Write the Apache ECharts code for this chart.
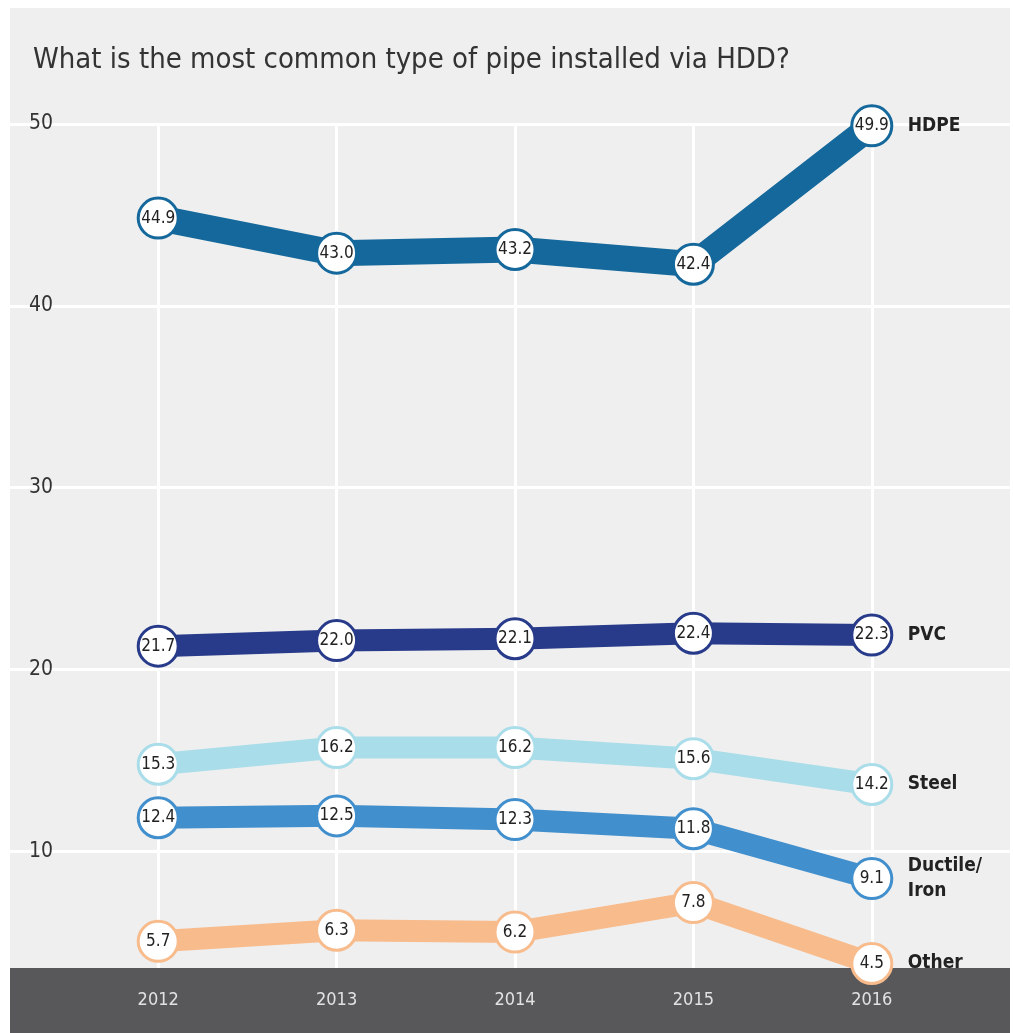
<!DOCTYPE html>
<html>
<head>
<meta charset="utf-8">
<script src="https://cdn.jsdelivr.net/npm/echarts@6/dist/echarts.min.js"></script>
<style>
  html, body { margin: 0; padding: 0; background: #ffffff; }
  #chart { width: 1013px; height: 1033px; }
</style>
</head>
<body>
<div id="chart"></div>
<script>
// Survey years and share of responses (%) per pipe material
const years = ['2012', '2013', '2014', '2015', '2016'];
const hdpe    = [44.9, 43.0, 43.2, 42.4, 49.9];
const pvc     = [21.7, 22.0, 22.1, 22.4, 22.3];
const steel   = [15.3, 16.2, 16.2, 15.6, 14.2];
const ductile = [12.4, 12.5, 12.3, 11.8, 9.1];
const other   = [5.7, 6.3, 6.2, 7.8, 4.5];
const yTicks  = [10, 20, 30, 40, 50];

const FONT = '"Liberation Sans Narrow", "DejaVu Sans Condensed", sans-serif';

// vertical scale: 40 units span 738 px
const PLOT_TOP = 124, PLOT_BOTTOM = 968, PX_PER_UNIT = 738 / 40;
const yMaxVal = 50;
const yMinVal = yMaxVal - (PLOT_BOTTOM - PLOT_TOP) / PX_PER_UNIT;

function makeSeries(name, data, color, width, labelText) {
  return {
    name: name,
    type: 'line',
    xAxisIndex: 0,
    yAxisIndex: 0,
    data: data,
    clip: false,
    z: 5,
    symbol: 'circle',
    symbolSize: 40,
    lineStyle: { color: color, width: width, cap: 'butt', join: 'miter' },
    itemStyle: { color: '#ffffff', borderColor: color, borderWidth: 3 },
    label: {
      show: true,
      position: 'inside',
      formatter: p => Number(p.value).toFixed(1),
      fontFamily: FONT,
      fontSize: 17,
      color: '#222222'
    },
    endLabel: {
      show: true,
      distance: 36,
      formatter: labelText,
      fontFamily: FONT,
      fontWeight: 'bold',
      fontSize: 19,
      lineHeight: 25,
      color: '#222222'
    },
    emphasis: { disabled: true },
    animation: false
  };
}

const chart = echarts.init(document.getElementById('chart'), null, { renderer: 'canvas' });

chart.setOption({
  animation: false,
  backgroundColor: '#ffffff',
  title: {
    text: 'What is the most common type of pipe installed via HDD?',
    left: 28,
    top: 41,
    textStyle: { fontFamily: FONT, fontWeight: 'normal', fontSize: 29, color: '#333333' }
  },
  graphic: [
    { type: 'rect', z: -10, silent: true, shape: { x: 10, y: 8, width: 1000, height: 960 }, style: { fill: '#efefef' } },
    { type: 'rect', z: 1, silent: true, shape: { x: 10, y: 968, width: 1000, height: 65 }, style: { fill: '#58585a' } }
  ],
  grid: [
    // series grid: category centres fall on the vertical rules
    { left: 69, right: 52, top: PLOT_TOP, height: PLOT_BOTTOM - PLOT_TOP },
    // full-width grid carrying the horizontal rules and value labels
    { left: 10, right: 3, top: PLOT_TOP, height: yMaxVal * PX_PER_UNIT }
  ],
  xAxis: [
    {
      gridIndex: 0,
      type: 'category',
      data: years,
      boundaryGap: true,
      z: 3,
      axisLine: { show: false },
      axisTick: { show: false },
      axisLabel: { margin: 23, fontFamily: FONT, fontSize: 18, color: '#e2e2e2' },
      splitLine: { show: false }
    },
    {
      gridIndex: 1,
      type: 'category',
      data: years,
      show: false
    }
  ],
  yAxis: [
    {
      gridIndex: 0,
      type: 'value',
      min: yMinVal,
      max: yMaxVal,
      show: false,
      splitLine: { show: false }
    },
    {
      gridIndex: 1,
      type: 'value',
      min: 0,
      max: yMaxVal,
      interval: 10,
      axisLine: { show: false },
      axisTick: { show: false },
      axisLabel: {
        inside: true,
        margin: 19,
        verticalAlign: 'middle',
        padding: [4, 0, 0, 0],
        fontFamily: FONT,
        fontSize: 21,
        color: '#333333',
        formatter: v => (yTicks.indexOf(v) >= 0 ? String(v) : '')
      },
      splitLine: { show: true, lineStyle: { color: '#ffffff', width: 3 } }
    }
  ],
  series: [
    // vertical rules at each survey year
    {
      type: 'line',
      xAxisIndex: 0,
      yAxisIndex: 0,
      data: [],
      silent: true,
      markLine: {
        silent: true,
        symbol: ['none', 'none'],
        label: { show: false },
        lineStyle: { color: '#ffffff', width: 3, type: 'solid' },
        data: years.map(y => [{ coord: [y, yMaxVal] }, { coord: [y, yMinVal] }])
      },
      z: 0
    },
    makeSeries('Other', other, '#f8bb8c', 22, 'Other'),
    makeSeries('Ductile/Iron', ductile, '#418fcd', 22, 'Ductile/\nIron'),
    makeSeries('Steel', steel, '#a9dde9', 22, 'Steel'),
    makeSeries('PVC', pvc, '#283a8a', 22, 'PVC'),
    makeSeries('HDPE', hdpe, '#15689b', 26, 'HDPE')
  ]
});
</script>
</body>
</html>
